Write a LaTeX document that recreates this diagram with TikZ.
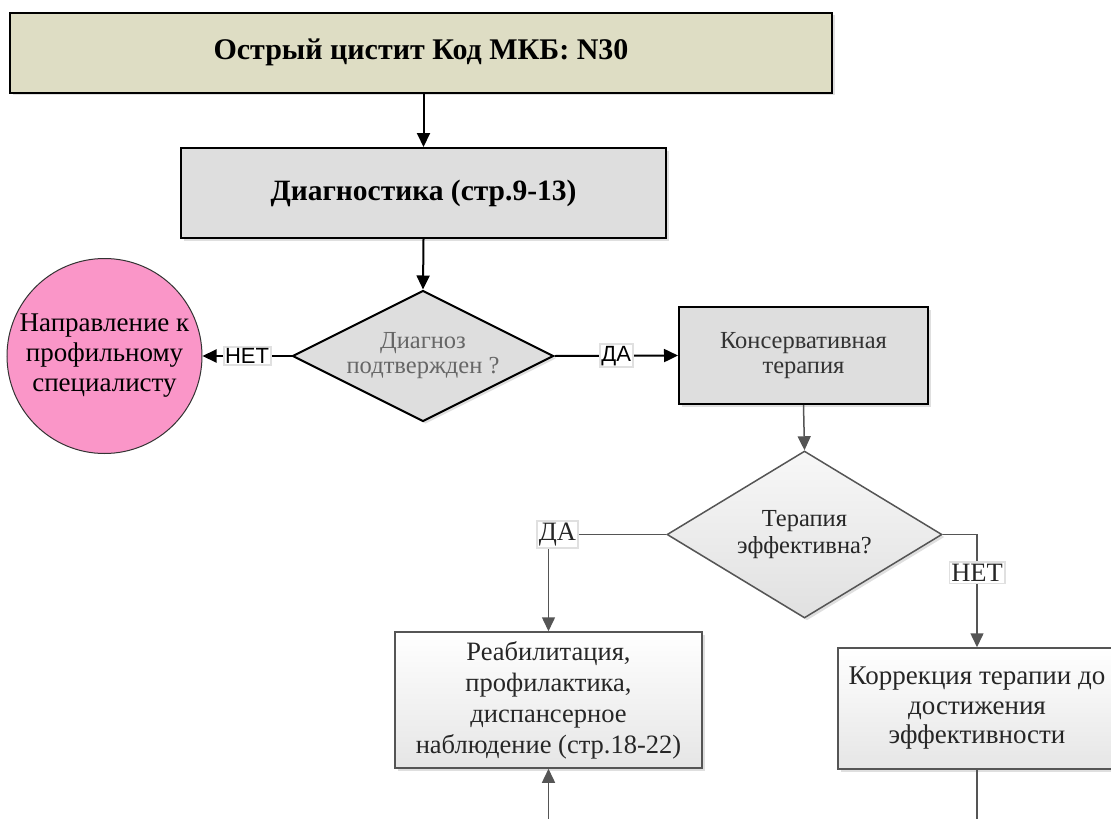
\documentclass[tikz,border=0pt]{standalone}
\usepackage{fontspec}
\setmainfont{Liberation Serif}
\newfontfamily\arialfont{Liberation Sans}
\usetikzlibrary{arrows.meta,shapes.geometric,shadows}

\definecolor{headfill}{HTML}{DEDDC4}
\definecolor{boxfill}{HTML}{DEDEDE}
\definecolor{pinkfill}{HTML}{FA96C8}
\definecolor{wiregray}{HTML}{555555}

\begin{document}
\begin{tikzpicture}[x=1pt,y=-1pt,
  >={Triangle[length=14pt,width=13pt]},
  every node/.style={inner sep=0pt,align=center},
  softshadow/.style={drop shadow={shadow xshift=2.5pt,shadow yshift=-2.5pt,opacity=0.25}},
  topbox/.style={draw=black,line width=2pt,fill=boxfill,softshadow},
  lowbox/.style={draw=wiregray,line width=1.5pt,top color=white,bottom color=black!10,softshadow},
  topwire/.style={line width=2pt,black},
  lowwire/.style={line width=1.5pt,wiregray},
  yesno/.style={fill=white,draw=black!12,inner sep=1.5pt,text=black,
    font=\arialfont\fontsize{22}{22}\selectfont},
  lowlabel/.style={fill=white,draw=black!12,inner sep=2pt,text=black!85,
    font=\fontsize{26.5}{26.5}\selectfont}]

  \useasboundingbox (0,0) rectangle (1111,819);

  %% top part
  \node[topbox,fill=headfill,minimum width=822pt,minimum height=80pt,
    font=\bfseries\fontsize{30}{34}\selectfont] (head) at (421,52.5)
    {Острый цистит Код МКБ: N30};
  \node[topbox,minimum width=485pt,minimum height=90pt,
    font=\bfseries\fontsize{29.5}{34}\selectfont] (diag) at (423.5,193)
    {Диагностика (стр.9-13)};
  \node[diamond,shape aspect=2,topbox,minimum width=261pt,minimum height=131pt,
    text=black!60,font=\fontsize{24.5}{25}\selectfont] (confirm) at (423,356)
    {Диагноз\\подтвержден ?};
  \node[circle,draw=black!80,line width=1pt,fill=pinkfill,minimum size=195pt,
    text=black,font=\fontsize{27}{30}\selectfont] (refer) at (104.5,356)
    {Направление к\\профильному\\специалисту};
  \node[topbox,minimum width=249pt,minimum height=97pt,
    text=black!80,font=\fontsize{24.5}{25}\selectfont] (conserv) at (803.5,355.5)
    {Консервативная\\терапия};

  %% lower part
  \node[diamond,shape aspect=1.65,lowbox,top color=black!3,bottom color=black!12,
    minimum width=275pt,minimum height=167pt,
    text=black!85,font=\fontsize{24.5}{27}\selectfont] (effect) at (804.5,534.5)
    {Терапия\\эффективна?};
  \node[lowbox,minimum width=307pt,minimum height=136pt,
    text=black!85,font=\fontsize{26.5}{31}\selectfont] (rehab) at (548.5,700)
    {Реабилитация,\\профилактика,\\диспансерное\\наблюдение (стр.18-22)};
  \node[lowbox,minimum width=278pt,minimum height=121pt,
    text=black!85,font=\fontsize{27}{29.5}\selectfont] (correct) at (977,708.5)
    {Коррекция терапии до\\достижения\\эффективности};

  \coordinate (rehabin) at (548.5,819);
  \coordinate (correctout) at (977,819);

  %% connectors
  \draw[topwire,->] (diag.north |- head.south) -- (diag.north);
  \draw[topwire,->] (diag.south) -- (confirm.north);
  \draw[topwire,->] (confirm.west) -- node[yesno]{НЕТ} (refer.east);
  \draw[topwire,->] (confirm.east) -- node[yesno]{ДА} (conserv.west);
  \draw[lowwire,->] (conserv.south) -- (effect.north);
  \draw[lowwire,->] (effect.west) -| node[lowlabel,pos=0.5,xshift=9pt]{ДА} (rehab.north);
  \draw[lowwire,->] (effect.east) -| node[lowlabel,pos=0.67]{НЕТ} (correct.north);
  \draw[lowwire,->] (rehabin) -- (rehab.south);
  \draw[lowwire] (correct.south) -- (correctout);

\end{tikzpicture}
\end{document}
